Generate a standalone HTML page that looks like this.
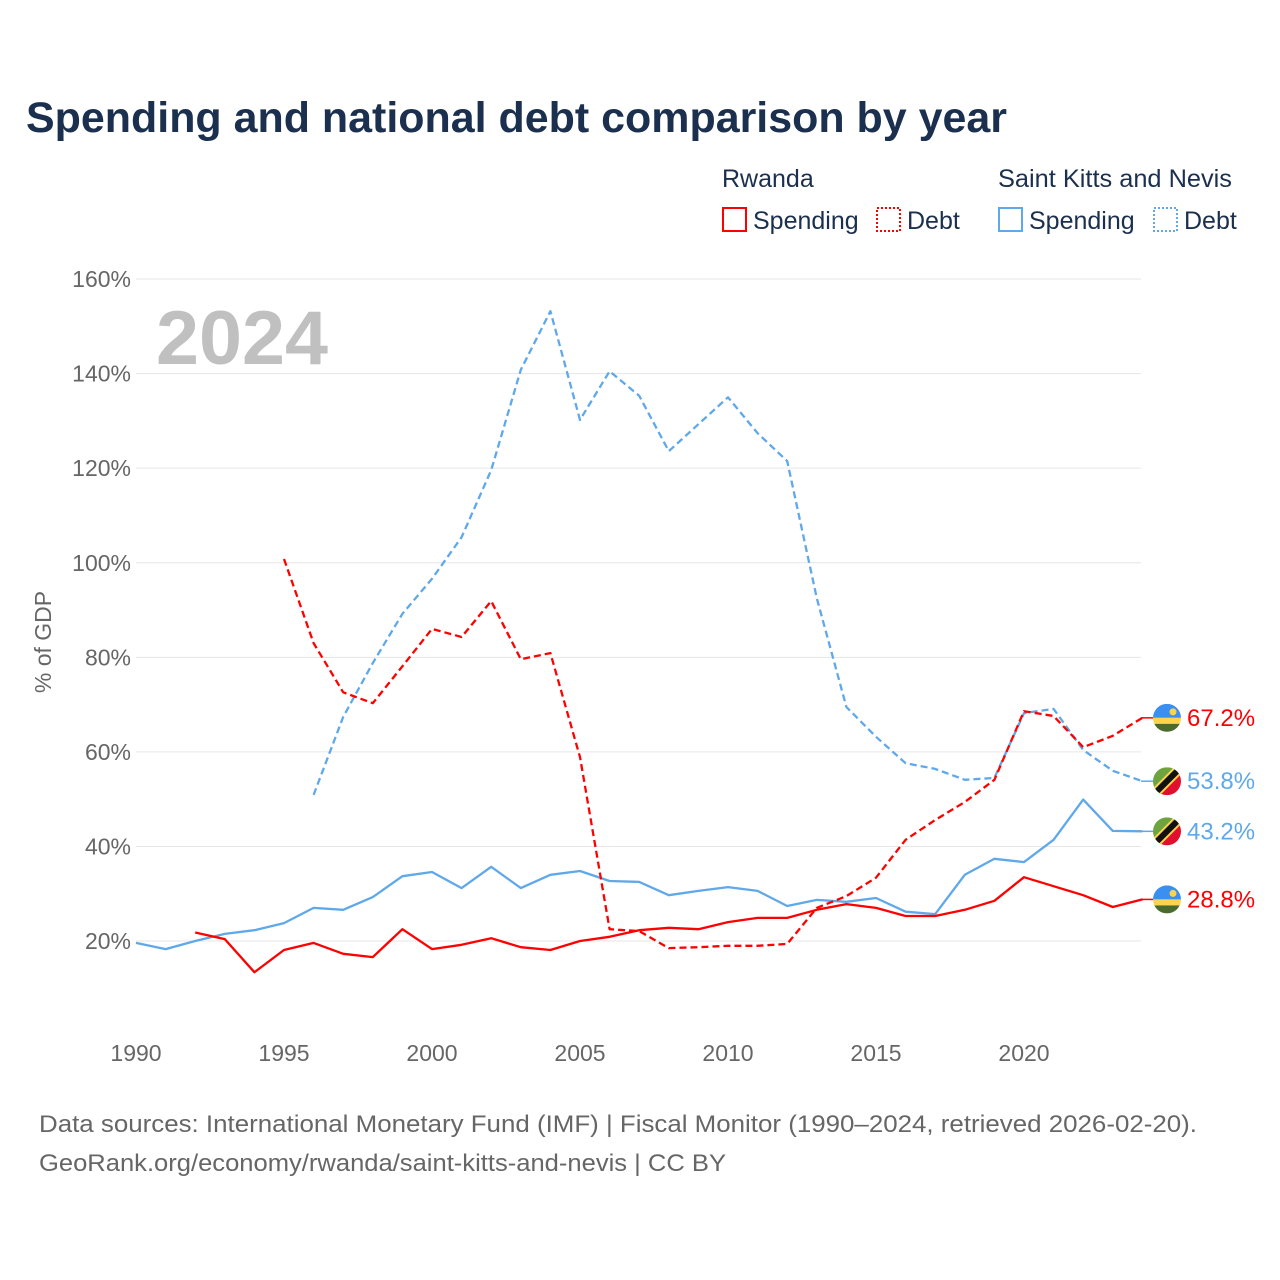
<!DOCTYPE html>
<html><head><meta charset="utf-8"><style>
body{margin:0;background:#fff;}
svg{display:block;font-family:"Liberation Sans",sans-serif;}
</style></head><body>
<svg id="chart" width="1280" height="1280" viewBox="0 0 1280 1280" xmlns="http://www.w3.org/2000/svg">
<defs>
<clipPath id="fc"><circle cx="0" cy="0" r="14"/></clipPath>
</defs>
<text x="26" y="132" font-size="43" font-weight="bold" fill="#1b2f4e" textLength="981" lengthAdjust="spacingAndGlyphs">Spending and national debt comparison by year</text>
<g font-size="25" fill="#1b2f4e">
<text x="722" y="187">Rwanda</text>
<text x="998" y="187" textLength="234" lengthAdjust="spacingAndGlyphs">Saint Kitts and Nevis</text>
<g><rect x="723" y="208" width="23" height="23" fill="none" stroke="#ff0000" stroke-width="2"/><text x="753" y="229">Spending</text></g>
<g><rect x="877" y="208" width="23" height="23" fill="none" stroke="#ff0000" stroke-width="2" stroke-dasharray="2,2"/><text x="907" y="229">Debt</text></g>
<g><rect x="999" y="208" width="23" height="23" fill="none" stroke="#5fa8ea" stroke-width="2"/><text x="1029" y="229">Spending</text></g>
<g><rect x="1154" y="208" width="23" height="23" fill="none" stroke="#5fa8ea" stroke-width="2" stroke-dasharray="2,2"/><text x="1184" y="229">Debt</text></g>
</g>
<text x="156" y="364" font-size="76" font-weight="bold" fill="#c0c0c0" textLength="172" lengthAdjust="spacingAndGlyphs">2024</text>
<text transform="translate(51,642) rotate(-90)" text-anchor="middle" font-size="23" fill="#666">% of GDP</text>
<g id="grid"></g>
<g id="series"></g>
<g id="endlabels"></g>
<g font-size="24" fill="#666">
<text x="39" y="1132" textLength="1158" lengthAdjust="spacingAndGlyphs">Data sources: International Monetary Fund (IMF) | Fiscal Monitor (1990–2024, retrieved 2026-02-20).</text>
<text x="39" y="1171" textLength="687" lengthAdjust="spacingAndGlyphs">GeoRank.org/economy/rwanda/saint-kitts-and-nevis | CC BY</text>
</g>
</svg>
<script>
const yTicks=[20,40,60,80,100,120,140,160];
const xTicks=[1990,1995,2000,2005,2010,2015,2020];
const rwSpendYears=[1992,1993,1994,1995,1996,1997,1998,1999,2000,2001,2002,2003,2004,2005,2006,2007,2008,2009,2010,2011,2012,2013,2014,2015,2016,2017,2018,2019,2020,2021,2022,2023,2024];
const rwSpend=[21.8,20.4,13.4,18.1,19.6,17.3,16.6,22.5,18.3,19.2,20.6,18.7,18.1,20.0,20.9,22.3,22.8,22.5,24.0,24.9,24.9,26.6,27.8,27.0,25.3,25.3,26.6,28.5,33.5,31.6,29.7,27.2,28.8];
const rwDebtYears=[1995,1996,1997,1998,1999,2000,2001,2002,2003,2004,2005,2006,2007,2008,2009,2010,2011,2012,2013,2014,2015,2016,2017,2018,2019,2020,2021,2022,2023,2024];
const rwDebt=[100.8,83.0,72.6,70.3,78.1,86.0,84.3,91.9,79.6,80.9,58.9,22.5,22.1,18.5,18.7,19.0,19.0,19.4,27.0,29.5,33.4,41.4,45.6,49.4,54.1,68.6,67.6,61.0,63.4,67.2];
const sknSpendYears=[1990,1991,1992,1993,1994,1995,1996,1997,1998,1999,2000,2001,2002,2003,2004,2005,2006,2007,2008,2009,2010,2011,2012,2013,2014,2015,2016,2017,2018,2019,2020,2021,2022,2023,2024];
const sknSpend=[19.6,18.3,20.0,21.5,22.3,23.8,27.0,26.6,29.3,33.7,34.6,31.2,35.7,31.2,34.0,34.8,32.7,32.5,29.7,30.6,31.4,30.6,27.4,28.7,28.3,29.1,26.2,25.7,34.0,37.4,36.7,41.4,49.9,43.3,43.2];
const sknDebtYears=[1996,1997,1998,1999,2000,2001,2002,2003,2004,2005,2006,2007,2008,2009,2010,2011,2012,2013,2014,2015,2016,2017,2018,2019,2020,2021,2022,2023,2024];
const sknDebt=[50.9,67.4,78.8,89.2,96.6,105.4,119.6,140.8,153.2,130.2,140.5,135.3,123.6,129.3,135.0,127.4,121.5,92.5,69.5,63.2,57.6,56.4,54.1,54.5,68.2,69.1,60.4,56.0,53.8];

const NS='http://www.w3.org/2000/svg';
const X=y=>136+(y-1990)*29.6;
const Y=v=>1035.6-v*4.7285;
function mk(t,a,p){const e=document.createElementNS(NS,t);for(const k in a)e.setAttribute(k,a[k]);p.appendChild(e);return e;}
const grid=document.getElementById('grid');
yTicks.forEach(v=>{
  const l=mk('line',{x1:136,x2:1141,y1:Y(v),y2:Y(v),stroke:'#e6e6e6','stroke-width':1},grid);
  
  
  const t=mk('text',{x:131,y:Y(v)+8,'text-anchor':'end','font-size':23,fill:'#666'},grid);
  t.textContent=v+'%';
  
  
});
xTicks.forEach(v=>{
  const t=mk('text',{x:X(v),y:1061,'text-anchor':'middle','font-size':23,fill:'#666'},grid);
  t.textContent=v;
  
  
});
const ser=document.getElementById('series');
function line(years,vals,color,dash,name){
  const d=years.map((y,i)=>(i?'L':'M')+X(y).toFixed(1)+','+Y(vals[i]).toFixed(1)).join('');
  const p=mk('path',{d:d,fill:'none',stroke:color,'stroke-width':2.3,'stroke-linejoin':'round'},ser);
  if(dash)p.setAttribute('stroke-dasharray','7,4');
  
  
}
line(sknSpendYears,sknSpend,'#5fa8ea',false,'line-skn-spending');
line(sknDebtYears,sknDebt,'#5fa8ea',true,'line-skn-debt');
line(rwSpendYears,rwSpend,'#ff0000',false,'line-rwanda-spending');
line(rwDebtYears,rwDebt,'#ff0000',true,'line-rwanda-debt');

const el=document.getElementById('endlabels');
function flag(cy,kind){
  const g=mk('g',{transform:'translate(1167,'+cy+')'},el);
  
  
  const c=mk('g',{'clip-path':'url(#fc)'},g);
  if(kind==='rw'){
    mk('rect',{x:-14,y:-14,width:28,height:14,fill:'#3b8ff0'},c);
    mk('rect',{x:-14,y:0,width:28,height:6,fill:'#fcd34d'},c);
    mk('rect',{x:-14,y:6,width:28,height:8,fill:'#4b6b2e'},c);
    mk('circle',{cx:6,cy:-6,r:3.5,fill:'#fcd34d'},c);
  }else{
    mk('polygon',{points:'-14,-14 14,-14 -14,14',fill:'#6ea43e'},c);
    mk('polygon',{points:'14,-14 14,14 -14,14',fill:'#e0102e'},c);
    mk('line',{x1:-14,y1:14,x2:14,y2:-14,stroke:'#fcd34d','stroke-width':10},c);
    mk('line',{x1:-14,y1:14,x2:14,y2:-14,stroke:'#111','stroke-width':6},c);
  }
}
function endLabel(v,kind,color,name){
  const cy=Y(v);
  mk('line',{x1:1141,x2:1153,y1:cy,y2:cy,stroke:color,'stroke-width':1.5},el);
  flag(cy,kind);
  const t=mk('text',{x:1187,y:cy+8,'font-size':24,fill:color},el);
  t.textContent=v.toFixed(1)+'%';
  
  
}
endLabel(rwDebt[rwDebt.length-1],'rw','#ff0000','end-label-rwanda-debt');
endLabel(sknDebt[sknDebt.length-1],'skn','#5fa8ea','end-label-skn-debt');
endLabel(sknSpend[sknSpend.length-1],'skn','#5fa8ea','end-label-skn-spending');
endLabel(rwSpend[rwSpend.length-1],'rw','#ff0000','end-label-rwanda-spending');
</script>
</body></html>
